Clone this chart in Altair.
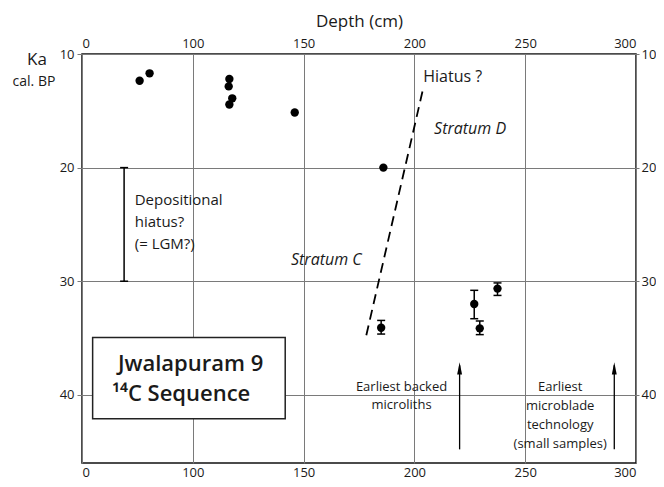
import altair as alt
import pandas as pd

# ---- data ----
depth = [76, 80.5, 116.5, 116.2, 117.8, 116.5, 146, 186, 185, 227, 229.5, 237.5]
age = [12.35, 11.7, 12.2, 12.85, 13.9, 14.45, 15.15, 20.0, 34.1, 32.0, 34.15, 30.65]

err_depth = [185, 227, 229.5, 237.5]
err_lo = [33.45, 30.8, 33.5, 30.15]
err_hi = [34.65, 33.3, 34.7, 31.25]

hiatus_depth = [204, 178.3]
hiatus_age = [13.0, 34.75]

dep_x = [69]
dep_from = [20]
dep_to = [30]

arrow_x = [220.4, 290.2]
arrow_from = [44.8, 44.8]
arrow_to = [37.4, 37.4]
arrow_head = [37.67, 37.67]

box_x = [54.8]
box_x2 = [141.7]
box_y = [34.96]
box_y2 = [42.1]

box_text = ["Jwalapuram 9", "\u00b9\u2074C Sequence"]
box_text_x = [66.2, 63.5]
box_text_y = [37.3, 39.95]

small_text = ["Earliest backed", "microliths", "Earliest", "microblade", "technology", "(small samples)"]
small_x = [194.2, 194.2, 265.8, 265.8, 265.8, 265.8]
small_y = [39.27, 40.93, 39.27, 40.99, 42.69, 44.3]

dep_text = ["Depositional", "hiatus?", "(= LGM?)"]
dep_text_x = [73.8, 73.8, 73.8]
dep_text_y = [22.84, 24.8, 26.7]

hiatus_text = ["Hiatus ?"]
hiatus_text_x = [204]
hiatus_text_y = [12.0]

strata_text = ["Stratum D", "Stratum C"]
strata_x = [208.9, 144.3]
strata_y = [16.57, 28.1]

x_ticks = [50, 100, 150, 200, 250, 300]
y_ticks = [10, 20, 30, 40]

FONT = "Open Sans"
INK = "#1a1a1a"
GRID = "#7a7a7a"

xs = alt.Scale(domain=[50, 300], nice=False, zero=False)
ys = alt.Scale(domain=[10, 46], reverse=True, nice=False, zero=False)

label_expr = "datum.value == 50 ? '0' : datum.label"

ax_bottom = alt.Axis(orient="bottom", values=x_ticks, labelExpr=label_expr, title=None,
                     grid=True, gridColor=GRID, gridWidth=1, domain=False,
                     ticks=False, labelPadding=3, labelFont=FONT, labelFontSize=13,
                     labelColor=INK)
ax_top = alt.Axis(orient="top", values=x_ticks, labelExpr=label_expr, title="Depth (cm)",
                  grid=False, domain=False, ticks=False, labelPadding=4,
                  labelFont=FONT, labelFontSize=13, labelColor=INK,
                  titleFont=FONT, titleFontSize=17, titleFontWeight="normal",
                  titleColor=INK, titlePadding=7)
ax_left = alt.Axis(orient="left", values=y_ticks, title=None, grid=True,
                   gridColor=GRID, gridWidth=1, domain=False, tickSize=5,
                   tickColor=GRID, labelPadding=3, labelFont=FONT,
                   labelFontSize=13, labelColor=INK)
ax_right = alt.Axis(orient="right", values=y_ticks, title=None, grid=False,
                    domain=False, tickSize=3, tickColor=GRID, labelPadding=2,
                    labelFont=FONT, labelFontSize=13, labelColor=INK)

pts_df = pd.DataFrame({"depth": depth, "age": age})
err_df = pd.DataFrame({"depth": err_depth, "lo": err_lo, "hi": err_hi})
cap_df = pd.DataFrame({"depth": err_depth + err_depth, "age": err_lo + err_hi})
hiatus_df = pd.DataFrame({"depth": hiatus_depth, "age": hiatus_age})
dep_df = pd.DataFrame({"depth": dep_x, "lo": dep_from, "hi": dep_to})
dep_cap_df = pd.DataFrame({"depth": dep_x + dep_x, "age": dep_from + dep_to})
arrow_df = pd.DataFrame({"depth": arrow_x, "lo": arrow_from, "hi": arrow_to, "head": arrow_head})
box_df = pd.DataFrame({"x": box_x, "x2": box_x2, "y": box_y, "y2": box_y2})


def txt(texts, xs_, ys_):
    return pd.DataFrame({"t": texts, "x": xs_, "y": ys_})


# points (carry the bottom / left axes)
points = alt.Chart(pts_df).mark_circle(size=70, color="black", opacity=1).encode(
    x=alt.X("depth:Q", scale=xs, axis=ax_bottom),
    y=alt.Y("age:Q", scale=ys, axis=ax_left),
)

# hiatus dashed line (carries the top / right axes)
hiatus_line = alt.Chart(hiatus_df).mark_line(color="black", strokeWidth=1.8,
                                             strokeDash=[10, 6]).encode(
    x=alt.X("depth:Q", scale=xs, axis=ax_top),
    y=alt.Y("age:Q", scale=ys, axis=ax_right),
)

err_rules = alt.Chart(err_df).mark_rule(color="black", strokeWidth=1.5).encode(
    x=alt.X("depth:Q", scale=xs, axis=None),
    y=alt.Y("lo:Q", scale=ys, axis=None),
    y2="hi:Q",
)
err_caps = alt.Chart(cap_df).mark_rule(color="black", strokeWidth=1.5,
                                       xOffset=-4, x2Offset=4).encode(
    x=alt.X("depth:Q", scale=xs, axis=None),
    x2="depth:Q",
    y=alt.Y("age:Q", scale=ys, axis=None),
)

dep_rule = alt.Chart(dep_df).mark_rule(color="black", strokeWidth=1.5).encode(
    x=alt.X("depth:Q", scale=xs, axis=None),
    y=alt.Y("lo:Q", scale=ys, axis=None),
    y2="hi:Q",
)
dep_caps = alt.Chart(dep_cap_df).mark_rule(color="black", strokeWidth=1.5,
                                           xOffset=-4, x2Offset=4).encode(
    x=alt.X("depth:Q", scale=xs, axis=None),
    x2="depth:Q",
    y=alt.Y("age:Q", scale=ys, axis=None),
)

arrow_shafts = alt.Chart(arrow_df).mark_rule(color="black", strokeWidth=1.3).encode(
    x=alt.X("depth:Q", scale=xs, axis=None),
    y=alt.Y("lo:Q", scale=ys, axis=None),
    y2="hi:Q",
)
arrow_heads = alt.Chart(arrow_df).mark_point(
    shape="M0,-1L0.4,1L-0.4,1Z", size=150, filled=True, color="black", opacity=1
).encode(
    x=alt.X("depth:Q", scale=xs, axis=None),
    y=alt.Y("head:Q", scale=ys, axis=None),
)

box = alt.Chart(box_df).mark_rect(fill="white", stroke="#222", strokeWidth=1.5).encode(
    x=alt.X("x:Q", scale=xs, axis=None),
    x2="x2:Q",
    y=alt.Y("y:Q", scale=ys, axis=None),
    y2="y2:Q",
)


def text_layer(df, **kw):
    return alt.Chart(df).mark_text(font=FONT, color=INK, baseline="middle", **kw).encode(
        x=alt.X("x:Q", scale=xs, axis=None),
        y=alt.Y("y:Q", scale=ys, axis=None),
        text="t:N",
    )


box_labels = text_layer(txt(box_text, box_text_x, box_text_y), fontSize=22,
                        fontWeight=600, align="left")
small_labels = text_layer(txt(small_text, small_x, small_y), fontSize=13, align="center")
dep_labels = text_layer(txt(dep_text, dep_text_x, dep_text_y), fontSize=15, align="left")
hiatus_labels = text_layer(txt(hiatus_text, hiatus_text_x, hiatus_text_y), fontSize=16,
                           align="left")
strata_labels = text_layer(txt(strata_text, strata_x, strata_y), fontSize=16,
                           fontStyle="italic", align="left")

ka_label = alt.Chart(pd.DataFrame({"t": ["Ka"]})).mark_text(
    font=FONT, fontSize=17, color=INK, align="center", baseline="middle"
).encode(x=alt.value(-45), y=alt.value(6), text="t:N")
bp_label = alt.Chart(pd.DataFrame({"t": ["cal. BP"]})).mark_text(
    font=FONT, fontSize=14, color=INK, align="center", baseline="middle"
).encode(x=alt.value(-48), y=alt.value(28), text="t:N")

chart = alt.layer(
    points, hiatus_line, err_rules, err_caps, dep_rule, dep_caps,
    arrow_shafts, arrow_heads, box, box_labels, small_labels, dep_labels,
    hiatus_labels, strata_labels, ka_label, bp_label,
).resolve_axis(x="independent", y="independent").properties(
    width=554, height=409,
    autosize=alt.AutoSizeParams(type="none"),
    padding={"left": 74, "top": 46, "right": 20, "bottom": 16},
).configure_view(stroke="#111", strokeWidth=1.5)

chart.save("out.html", embed_options={"renderer": "svg", "actions": False})
